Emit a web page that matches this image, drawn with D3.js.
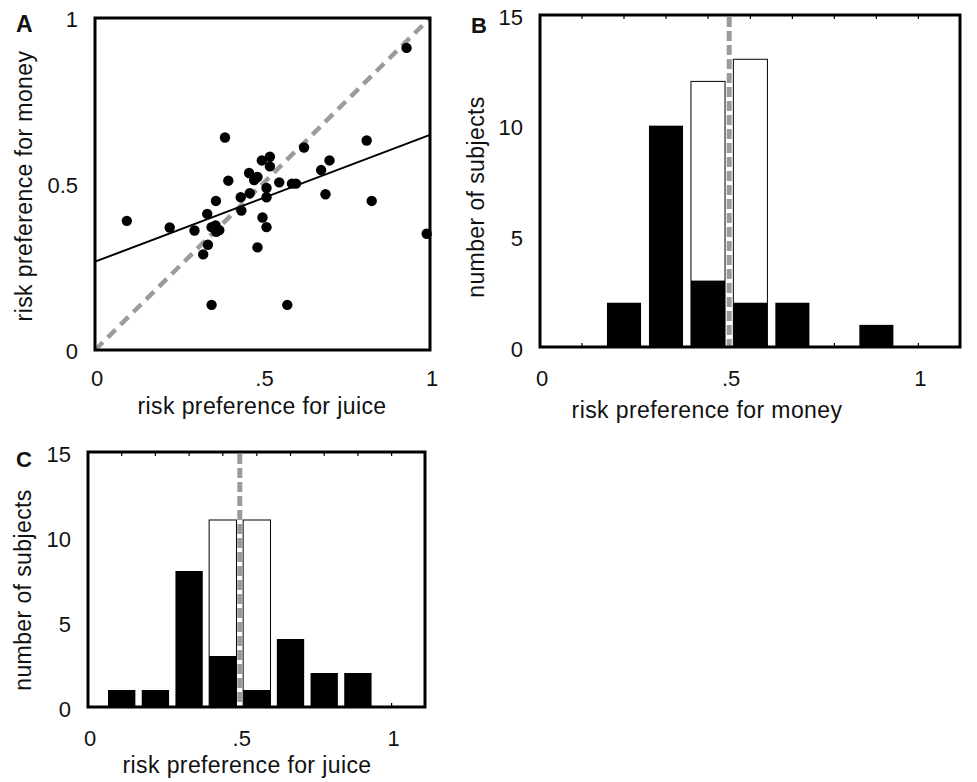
<!DOCTYPE html>
<html>
<head>
<meta charset="utf-8">
<script src="https://cdn.jsdelivr.net/npm/d3@7"></script>
<style>
  body { margin: 0; background: #fff; }
  text { font-family: "Liberation Sans", Arial, Helvetica, sans-serif; fill: #111; }
</style>
</head>
<body>
<svg id="chart" width="977" height="782"></svg>
<script>
// panel A: one point per subject
const juicePref = [0.930, 0.388, 0.811, 0.624, 0.522, 0.498, 0.522, 0.700, 0.675, 0.460,
  0.485, 0.475, 0.398, 0.550, 0.588, 0.600, 0.512, 0.462, 0.435, 0.512,
  0.688, 0.361, 0.826, 0.437, 0.335, 0.500, 0.095, 0.223, 0.297, 0.348,
  0.371, 0.360, 0.512, 0.337, 0.323, 0.485, 0.990, 0.348, 0.574, 0.362];
const moneyPref = [0.910, 0.640, 0.631, 0.610, 0.582, 0.571, 0.553, 0.571, 0.542, 0.533,
  0.521, 0.512, 0.510, 0.505, 0.501, 0.501, 0.488, 0.472, 0.460, 0.460,
  0.469, 0.449, 0.449, 0.420, 0.410, 0.399, 0.389, 0.369, 0.360, 0.370,
  0.361, 0.375, 0.370, 0.317, 0.288, 0.309, 0.350, 0.136, 0.136, 0.356];
// regression line end points
const fitX = [0, 1];
const fitY = [0.266, 0.648];

// panels B and C: histogram bins
const binCenters = [0.111, 0.222, 0.333, 0.444, 0.556, 0.667, 0.778, 0.889];
const moneyBlack = [0, 2, 10, 3, 2, 2, 0, 1];
const moneyTotal = [0, 2, 10, 12, 13, 2, 0, 1];
const juiceBlack = [1, 1, 8, 3, 1, 4, 2, 2];
const juiceTotal = [1, 1, 8, 11, 11, 4, 2, 2];

const scatterTicks = [0, 0.5, 1];
const scatterXLabels = ['0', '.5', '1'];
const scatterYLabels = ['0', '0.5', '1'];
const histXTicks = [0, 0.5, 1];
const histXLabels = ['0', '.5', '1'];
const histYTicks = [0, 5, 10, 15];
const histMinorTicks = [0.111, 0.222, 0.333, 0.444, 0.556, 0.667, 0.778, 0.889, 1];

const svg = d3.select('#chart');
const gray = '#9b9b9b';
const tickSize = 22;
const titleSize = 23;
const spacing = '0.4px';

// ---------- panel A ----------
{
  const box = { left: 95, right: 430, top: 18, bottom: 350 };
  const x = d3.scaleLinear().domain([0, 1]).range([box.left, box.right]);
  const y = d3.scaleLinear().domain([0, 1]).range([box.bottom, box.top]);
  const g = svg.append('g');

  // identity line
  g.append('line')
    .attr('x1', x(0)).attr('y1', y(0))
    .attr('x2', x(1)).attr('y2', y(1))
    .attr('stroke', gray).attr('stroke-width', 4.5)
    .attr('stroke-dasharray', '11,7');

  // fit
  g.append('path')
    .datum(fitX.map((d, i) => [d, fitY[i]]))
    .attr('d', d3.line().x(d => x(d[0])).y(d => y(d[1])))
    .attr('stroke', '#000').attr('stroke-width', 2).attr('fill', 'none');

  g.append('g')
    .selectAll('circle')
    .data(juicePref)
    .enter()
    .append('circle')
    .attr('cx', d => x(d))
    .attr('cy', (d, i) => y(moneyPref[i]))
    .attr('r', 5.2)
    .attr('fill', '#000');

  g.append('rect')
    .attr('x', box.left).attr('y', box.top)
    .attr('width', box.right - box.left).attr('height', box.bottom - box.top)
    .attr('fill', 'none').attr('stroke', '#000').attr('stroke-width', 3);

  g.selectAll('.yl').data(scatterTicks).enter().append('text')
    .attr('x', box.left - 17).attr('y', d => y(d) + 1)
    .attr('text-anchor', 'end').attr('dominant-baseline', 'central')
    .attr('font-size', tickSize)
    .text((d, i) => scatterYLabels[i]);

  g.selectAll('.xl').data(scatterTicks).enter().append('text')
    .attr('x', d => x(d) + 2).attr('y', 378)
    .attr('text-anchor', 'middle').attr('dominant-baseline', 'central')
    .attr('font-size', tickSize)
    .text((d, i) => scatterXLabels[i]);

  g.append('text').attr('x', 262).attr('y', 414)
    .attr('text-anchor', 'middle').attr('font-size', titleSize)
    .attr('letter-spacing', spacing)
    .text('risk preference for juice');

  g.append('text')
    .attr('transform', 'translate(32,186) rotate(-90)')
    .attr('text-anchor', 'middle').attr('font-size', titleSize)
    .attr('letter-spacing', spacing)
    .text('risk preference for money');

  g.append('text').attr('x', 16).attr('y', 32)
    .attr('font-size', 23).attr('font-weight', 'bold').text('A');
}

// ---------- histogram panels ----------
function histogram(opts) {
  const { box, black, total, xLabelY, titleY, titleX, yTitleX, yTitleY, title, letter, letterPos } = opts;
  const x = d3.scaleLinear().domain([0, 1.11]).range([box.left, box.right]);
  const y = d3.scaleLinear().domain([0, 15]).range([box.bottom, box.top]);
  const barW = x(0.09) - x(0);
  const g = svg.append('g');

  // minor ticks along top and bottom
  g.selectAll('.mt').data(histMinorTicks).enter().append('line')
    .attr('x1', d => x(d)).attr('x2', d => x(d))
    .attr('y1', box.bottom).attr('y2', box.bottom - 4)
    .attr('stroke', '#000').attr('stroke-width', 1.2);
  g.selectAll('.mtt').data(histMinorTicks).enter().append('line')
    .attr('x1', d => x(d)).attr('x2', d => x(d))
    .attr('y1', box.top).attr('y2', box.top + 4)
    .attr('stroke', '#000').attr('stroke-width', 1.2);

  // totals (open bars)
  const open = binCenters.map((c, i) => ({ c, n: total[i], b: black[i] }))
    .filter(d => d.n > d.b);
  g.selectAll('.tot').data(open).enter().append('rect')
    .attr('x', d => x(d.c) - barW / 2)
    .attr('y', d => y(d.n))
    .attr('width', barW)
    .attr('height', d => y(0) - y(d.n))
    .attr('fill', '#fff').attr('stroke', '#000').attr('stroke-width', 1);

  g.selectAll('.blk').data(binCenters).enter().append('rect')
    .attr('x', d => x(d) - barW / 2)
    .attr('y', (d, i) => y(black[i]))
    .attr('width', barW)
    .attr('height', (d, i) => y(0) - y(black[i]))
    .attr('fill', '#000');

  // chance line at 0.5
  g.append('line')
    .attr('x1', x(0.5)).attr('x2', x(0.5))
    .attr('y1', box.top + 2).attr('y2', box.bottom)
    .attr('stroke', gray).attr('stroke-width', 5)
    .attr('stroke-dasharray', '10,4');

  g.append('rect')
    .attr('x', box.left).attr('y', box.top)
    .attr('width', box.right - box.left).attr('height', box.bottom - box.top)
    .attr('fill', 'none').attr('stroke', '#000').attr('stroke-width', 3);

  g.selectAll('.yl').data(histYTicks).enter().append('text')
    .attr('x', box.left - 17).attr('y', d => y(d) + 2)
    .attr('text-anchor', 'end').attr('dominant-baseline', 'central')
    .attr('font-size', tickSize).text(d => d);

  g.selectAll('.xl').data(histXTicks).enter().append('text')
    .attr('x', d => x(d) + 2).attr('y', xLabelY)
    .attr('text-anchor', 'middle').attr('dominant-baseline', 'central')
    .attr('font-size', tickSize)
    .text((d, i) => histXLabels[i]);

  g.append('text').attr('x', titleX).attr('y', titleY)
    .attr('text-anchor', 'middle').attr('font-size', titleSize)
    .attr('letter-spacing', spacing).text(title);

  g.append('text')
    .attr('transform', `translate(${yTitleX},${yTitleY}) rotate(-90)`)
    .attr('text-anchor', 'middle').attr('font-size', titleSize)
    .attr('letter-spacing', spacing)
    .text('number of subjects');

  g.append('text').attr('x', letterPos[0]).attr('y', letterPos[1])
    .attr('font-size', 22).attr('font-weight', 'bold').text(letter);
}

histogram({
  box: { left: 540, right: 960, top: 15, bottom: 347 },
  black: moneyBlack, total: moneyTotal,
  xLabelY: 378, titleX: 707, titleY: 418,
  yTitleX: 484, yTitleY: 197,
  title: 'risk preference for money', letter: 'B', letterPos: [471, 33]
});

histogram({
  box: { left: 88, right: 425, top: 452, bottom: 707 },
  black: juiceBlack, total: juiceTotal,
  xLabelY: 738, titleX: 247, titleY: 773,
  yTitleX: 31, yTitleY: 590,
  title: 'risk preference for juice', letter: 'C', letterPos: [16, 467]
});
</script>
</body>
</html>
